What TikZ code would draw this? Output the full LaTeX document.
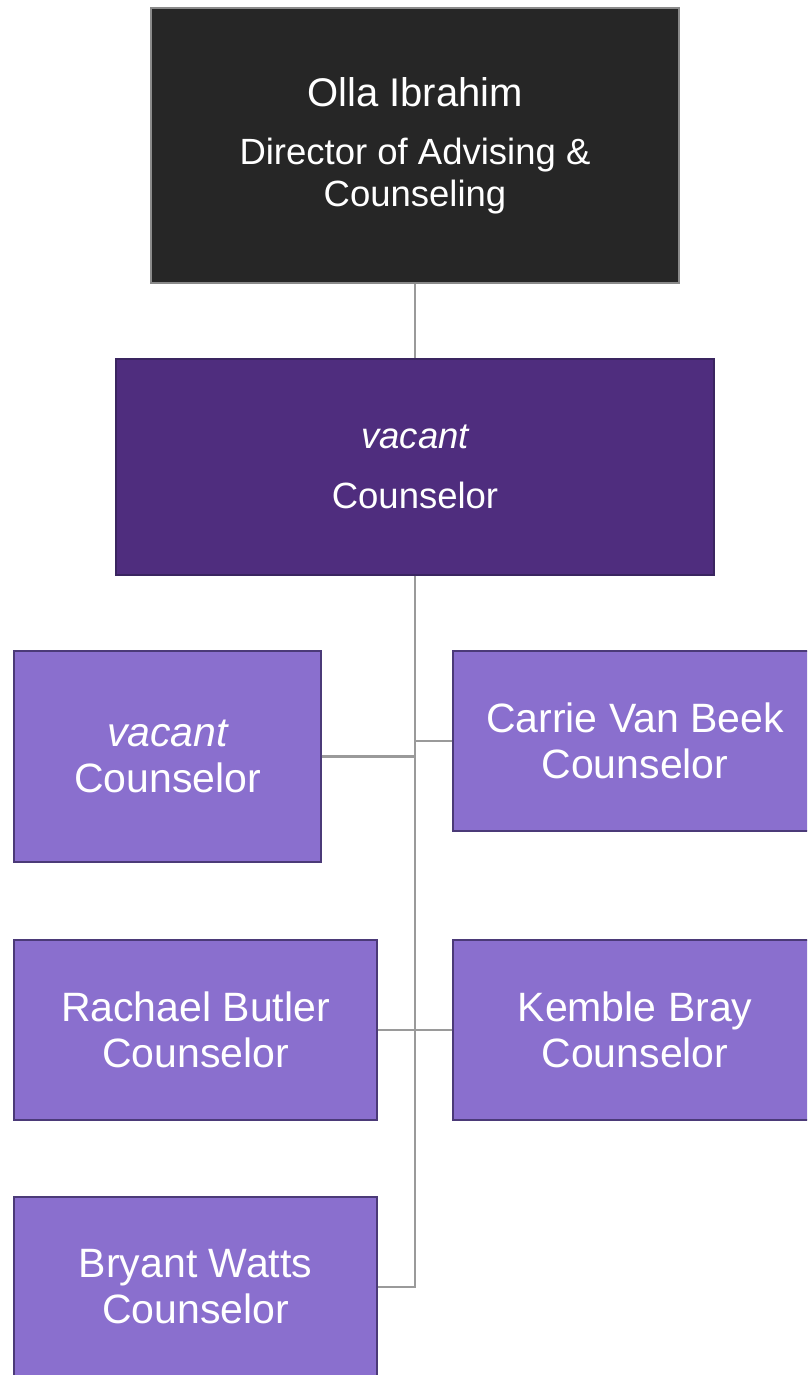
\documentclass[tikz,border=0pt]{standalone}
\usepackage{fontspec}
\setmainfont{Liberation Sans}
\definecolor{topfill}{HTML}{262626}
\definecolor{topline}{HTML}{8A8A8A}
\definecolor{midfill}{HTML}{4F2D7E}
\definecolor{midline}{HTML}{3A2560}
\definecolor{smallfill}{HTML}{8A6FCE}
\definecolor{smallline}{HTML}{4B3A78}
\definecolor{connline}{HTML}{9A9A9A}
\begin{document}
\begin{tikzpicture}[x=1pt,y=-1pt,
  boxbase/.style={rectangle, text=white, align=center, inner sep=0pt, line width=1.2pt},
  topbox/.style={boxbase, fill=topfill, draw=topline, minimum width=528pt, minimum height=275pt,
     font=\fontsize{36.5}{42}\selectfont},
  midbox/.style={boxbase, fill=midfill, draw=midline, minimum width=598pt, minimum height=216pt,
     font=\fontsize{36.5}{42}\selectfont},
  smallbox/.style={boxbase, fill=smallfill, draw=smallline, minimum width=363pt, minimum height=180pt,
     font=\fontsize{41}{46}\selectfont},
  conn/.style={draw=connline, line width=2.5pt}]
\useasboundingbox (0,0) rectangle (807,1375);
\clip (0,0) rectangle (807,1375);

\node[topbox] (dir) at (415,145.5) {{\fontsize{40}{42}\selectfont Olla Ibrahim}\\[16pt]Director of Advising \&\\Counseling};
\node[midbox] (mid) at (415,467) {\itshape vacant\\[18pt]Counselor};
\node[smallbox, minimum width=307pt, minimum height=211pt] (vac) at (167.5,756.5) {\itshape vacant\\Counselor};
\node[smallbox, minimum width=364pt] (carrie) at (635,741) {Carrie Van Beek\\Counselor};
\node[smallbox] (rachael) at (195.5,1030) {Rachael Butler\\Counselor};
\node[smallbox, minimum width=364pt] (kemble) at (635,1030) {Kemble Bray\\Counselor};
\node[smallbox] (bryant) at (195.5,1287) {Bryant Watts\\Counselor};

\draw[conn] (dir.south) -- (mid.north);
\draw[conn] (mid.south) |- (bryant.east);
\draw[conn] (vac.east) -- (vac.east -| mid.south);
\draw[conn] (carrie.west) -- (carrie.west -| mid.south);
\draw[conn] (rachael.east) -- (rachael.east -| mid.south);
\draw[conn] (kemble.west) -- (kemble.west -| mid.south);
\end{tikzpicture}
\end{document}
